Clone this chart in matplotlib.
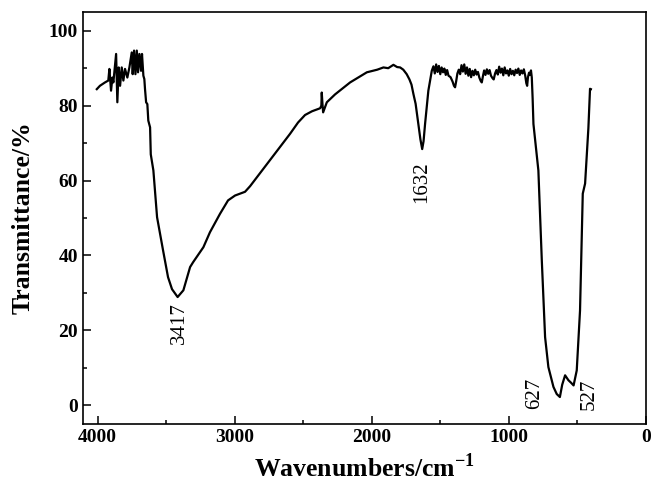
import matplotlib
matplotlib.use("Agg")
import matplotlib.pyplot as plt
from matplotlib.ticker import MultipleLocator

# FTIR spectrum, wavenumber (cm^-1) vs transmittance (%)
wavenumber = [
    4007, 3984, 3947, 3923, 3915, 3903, 3893, 3886, 3866, 3857, 3847, 3837,
    3825, 3813, 3801, 3784, 3769, 3752, 3745, 3735, 3725, 3715, 3706, 3696,
    3684, 3677, 3667, 3660, 3655, 3647, 3638, 3631, 3618, 3613, 3594, 3567,
    3523, 3487, 3458, 3417, 3375, 3326, 3304, 3229, 3181, 3108, 3049, 2998,
    2925, 2888, 2815, 2742, 2669, 2596, 2538, 2487, 2436, 2377, 2368, 2365,
    2360, 2355, 2328, 2268, 2158, 2036, 1960, 1915, 1880, 1842, 1815, 1793,
    1770, 1745, 1725, 1710, 1696, 1680, 1660, 1645, 1632, 1622, 1611, 1587,
    1562, 1550, 1540, 1530, 1520, 1510, 1500, 1490, 1480, 1470, 1460, 1450,
    1440, 1425, 1410, 1400, 1392, 1384, 1375, 1365, 1355, 1345, 1335, 1325,
    1315, 1305, 1295, 1285, 1275, 1265, 1255, 1245, 1235, 1225, 1215, 1205,
    1197, 1189, 1180, 1170, 1160, 1150, 1140, 1130, 1120, 1110, 1100, 1090,
    1080, 1070, 1060, 1050, 1040, 1030, 1020, 1010, 1000, 990, 980, 970,
    960, 950, 940, 930, 920, 910, 900, 890, 880, 872, 866, 860,
    852, 845, 838, 832, 826, 820, 784, 759, 735, 711, 674, 650,
    627, 610, 589, 565, 545, 527, 504, 480, 460, 443, 419, 407, 401,
]
transmittance = [
    84.4, 85.3, 86.2, 86.7, 89.8, 84.0, 87.5, 86.2, 93.8, 80.9, 90.2, 85.3,
    90.2, 86.7, 89.8, 87.5, 90.2, 94.2, 88.4, 94.7, 88.4, 94.7, 88.9, 93.8,
    89.3, 93.8, 88.0, 87.1, 84.4, 80.9, 80.4, 76.0, 74.2, 67.0, 62.7, 50.2,
    41.3, 34.2, 31.0, 28.9, 30.7, 36.9, 38.2, 42.2, 46.2, 51.1, 54.7, 56.0,
    57.0, 58.5, 62.0, 65.5, 69.0, 72.5, 75.5, 77.5, 78.5, 79.3, 80.0, 83.5,
    80.5, 78.2, 80.9, 83.0, 86.2, 88.9, 89.6, 90.2, 90.0, 90.9, 90.3, 90.2,
    89.6, 88.4, 87.0, 85.6, 83.1, 80.5, 75.1, 71.0, 68.4, 70.5, 75.1, 84.0,
    89.3, 90.5, 88.6, 91.0, 89.0, 90.6, 88.4, 90.2, 88.9, 89.9, 88.2, 89.5,
    88.0, 87.6, 86.4, 85.3, 84.9, 86.5, 88.6, 89.6, 88.4, 90.8, 89.1, 91.0,
    88.5, 90.2, 88.0, 89.8, 87.6, 89.3, 88.1, 89.6, 88.3, 89.0, 87.5, 86.6,
    86.2, 87.8, 89.4, 88.2, 89.7, 88.5, 89.5, 88.0, 87.4, 87.0, 88.6, 89.5,
    88.3, 90.4, 88.8, 89.9, 88.1, 90.2, 88.6, 89.4, 88.0, 89.8, 88.4, 89.3,
    88.1, 89.6, 88.7, 89.9, 88.2, 89.4, 88.6, 89.7, 88.0, 86.0, 85.3, 87.6,
    88.8, 88.2, 89.4, 87.5, 82.0, 75.1, 62.7, 38.7, 18.2, 10.2, 4.9, 3.0,
    2.2, 5.5, 8.0, 6.7, 6.0, 5.3, 9.3, 25.3, 56.5, 59.2, 74.0, 84.5, 84.4,
]

peak_wavenumbers = [3417, 1632, 627, 527]
peak_labels = ["3417", "1632", "627", "527"]

plt.rcParams["font.family"] = ["Liberation Serif", "DejaVu Serif"]
plt.rcParams["mathtext.fontset"] = "custom"
plt.rcParams["mathtext.rm"] = "Liberation Serif:bold"
plt.rcParams["mathtext.bf"] = "Liberation Serif:bold"

fig = plt.figure(figsize=(6.51, 4.90), dpi=100)
ax = fig.add_axes([0.127, 0.1347, 0.865, 0.8408])

ax.plot(wavenumber, transmittance, color="black", linewidth=1.6)

# peak labels, written vertically next to each band
label_xy = {"3417": (3405, 21.9), "1632": (1635, 59.5),
            "627": (808, 3.2), "527": (414, 2.9)}
for wn, lab in zip(peak_wavenumbers, peak_labels):
    tx, ty = label_xy[lab]
    ax.text(tx, ty, lab, rotation=90, ha="center", va="center",
            fontsize=15, color="black")

ax.set_xlim(4110, 0)
ax.set_ylim(-5, 105)
ax.xaxis.set_major_locator(MultipleLocator(1000))
ax.xaxis.set_minor_locator(MultipleLocator(500))
ax.yaxis.set_major_locator(MultipleLocator(20))
ax.yaxis.set_minor_locator(MultipleLocator(10))
ax.tick_params(which="both", direction="in", top=False, right=False,
               width=1.1)
ax.tick_params(which="major", length=6, labelsize=14)
ax.tick_params(which="minor", length=3)
for lbl in ax.get_xticklabels() + ax.get_yticklabels():
    lbl.set_fontweight("bold")
for sp in ax.spines.values():
    sp.set_linewidth(1.2)

ax.set_xlabel(r"Wavenumbers/cm$^{\mathbf{-1}}$", fontsize=18.5,
              fontweight="bold", labelpad=5)
ax.set_ylabel("Transmittance/%", fontsize=18.5, fontweight="bold",
              labelpad=10)

fig.savefig("out.png", dpi=100)
